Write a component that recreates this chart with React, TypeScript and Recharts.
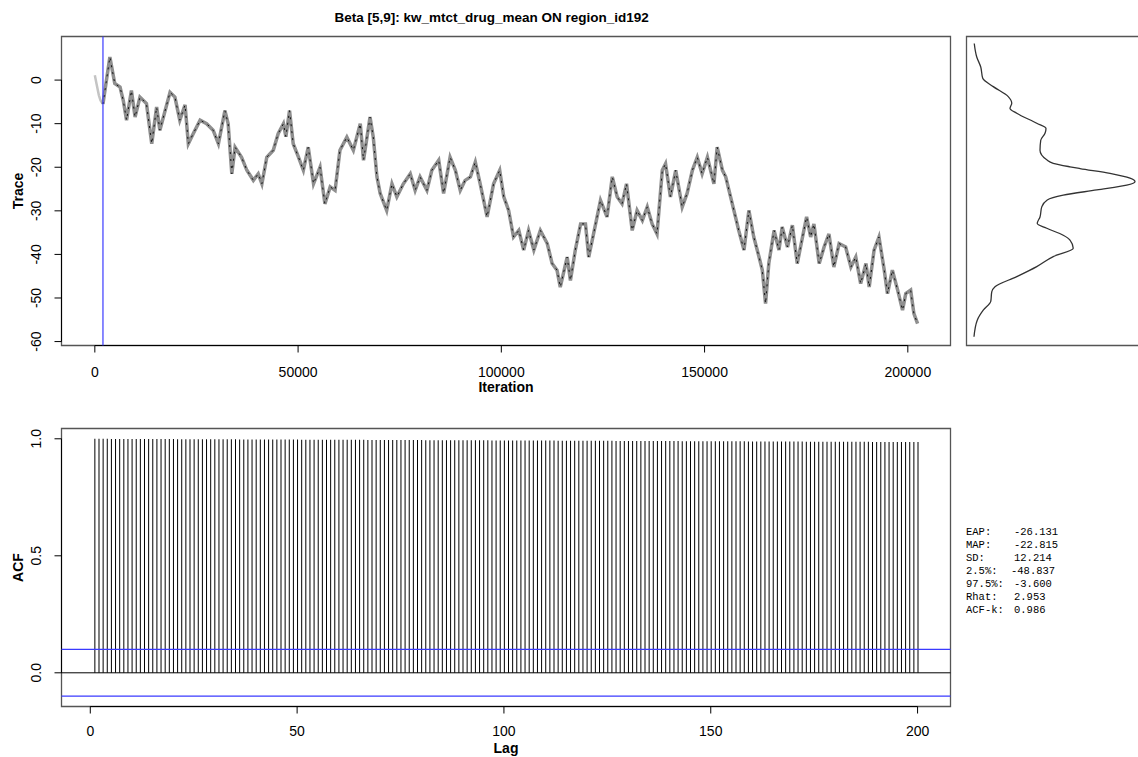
import { Bar, BarChart, Line, LineChart, ReferenceArea, ReferenceLine, XAxis, YAxis } from "recharts";

const TITLE = "Beta [5,9]: kw_mtct_drug_mean ON region_id192";
const BURN_IN = 2000;

// burn-in part of the chain (drawn light grey, left of the blue line)
const BURN_ITER = [0, 400, 1000, 1400, 2000];
const BURN_VALUE = [1.1, -0.8, -3.5, -4.7, -5.5];

// post burn-in trace
const TRACE_ITER = [
  2000, 3700, 4900, 6200, 7000, 7800, 9000, 9900, 11100, 12700, 14000, 15200, 16000, 18500, 19700, 20900,
  22200, 23000, 24200, 25900, 27500, 29100, 30400, 32000, 32800, 33700, 34500, 36100, 37400, 39000, 40200,
  41100, 42300, 43900, 45100, 46400, 47000, 47900, 48800, 50100, 51300, 52500, 53800, 55400, 56600, 57900,
  59100, 60300, 62000, 63600, 65300, 66100, 67700, 68500, 69400, 70200, 71800, 73100, 74300, 75900, 77600,
  78800, 80000, 81700, 82900, 84600, 85800, 87400, 88700, 89900, 91100, 92400, 93600, 94800, 96500, 98100,
  99600, 100600, 101800, 103000, 104300, 105500, 106700, 108000, 109600, 111300, 112500, 113700, 114500,
  116200, 117000, 118200, 119500, 120700, 121500, 123200, 124400, 126000, 127300, 128500, 129700, 130800,
  132200, 133400, 134700, 135900, 137100, 138300, 139600, 140400, 141600, 142900, 144500, 145700, 147000,
  148200, 149400, 150700, 152300, 153100, 154400, 155200, 156400, 157600, 158400, 159700, 160900, 162100,
  163400, 164200, 165000, 165800, 167100, 168300, 169100, 170400, 171600, 172800, 174100, 175100, 176100,
  176900, 178200, 179400, 180600, 181800, 183100, 184700, 186000, 187200, 188400, 189700, 190500, 191700,
  192900, 194200, 195000, 196200, 197500, 198700, 199500, 200700, 201500, 202400,
];
const TRACE_VALUE = [
  -5.5, 5.3, -0.8, -1.6, -4.7, -9.2, -2.4, -8.5, -3.9, -5.4, -14.6, -6.2, -11.5, -2.8, -3.9, -9.2,
  -5.7, -14.6, -12.3, -9.2, -10.0, -11.5, -14.6, -7.0, -10.0, -21.5, -15.4, -17.7, -20.7, -23.0, -21.5,
  -23.8, -17.7, -16.1, -12.3, -10.0, -13.0, -7.0, -14.6, -17.7, -20.7, -15.4, -23.8, -20.0, -28.4, -24.5,
  -25.3, -16.1, -13.1, -16.1, -10.0, -18.4, -8.5, -13.1, -22.2, -26.0, -29.9, -23.8, -26.8, -23.8, -21.5,
  -25.3, -22.2, -25.3, -20.7, -18.4, -26.0, -17.7, -20.7, -25.3, -23.0, -22.2, -18.8, -23.8, -31.4, -23.8,
  -20.7, -26.8, -29.9, -36.0, -34.5, -39.0, -34.5, -39.0, -34.5, -37.5, -42.1, -43.6, -47.5,
  -40.6, -46.0, -39.0, -33.0, -33.0, -40.6, -33.0, -27.6, -31.4, -22.2, -26.8, -28.4, -23.8,
  -34.5, -29.9, -32.2, -29.1, -33.0, -35.3, -20.7, -19.2, -26.8, -20.7, -29.1, -26.0, -20.7,
  -17.7, -21.5, -17.7, -23.8, -15.4, -20.7, -22.2, -26.8, -31.4, -34.5, -39.0, -29.9, -36.0,
  -40.6, -43.6, -51.3, -42.1, -34.5, -39.0, -33.7, -38.3, -33.3, -42.1, -36.0, -31.4, -36.0,
  -33.0, -42.1, -38.3, -35.3, -42.9, -37.5, -38.3, -42.9, -40.6, -46.7, -42.1, -47.5, -39.0,
  -36.0, -43.6, -49.0, -43.6, -48.2, -52.8, -49.0, -48.2, -53.6, -55.9,
];

// marginal density, drawn sideways next to the trace
const DENS_AT = [
  8.4, 5.3, 3.0, 0.4, -1.5, -3.8, -5.3, -6.5, -7.6, -9.9, -11.1, -12.2, -13.8, -16.1, -18.3, -19.1, -19.9,
  -20.3, -21.4, -22.5, -23.3, -24.1, -25.2, -26.4, -27.5, -29.1, -31.4, -32.9, -34.0, -35.6, -36.7, -38.6,
  -40.5, -42.8, -45.1, -47.4, -48.6, -50.8, -52.8, -55.1, -58.9,
];
const DENS_HEIGHT = [
  0.0003, 0.0013, 0.0029, 0.0037, 0.0079, 0.0139, 0.0153, 0.0146, 0.0173, 0.0253, 0.029, 0.0286, 0.0269,
  0.0266, 0.0293, 0.0319, 0.0386, 0.0426, 0.0546, 0.0626, 0.0646, 0.0613, 0.0493, 0.0359, 0.0295, 0.0273,
  0.0266, 0.0255, 0.0293, 0.0359, 0.0386, 0.0399, 0.0319, 0.0253, 0.0173, 0.0086, 0.0073, 0.0069, 0.0039,
  0.0015, 0.0002,
];

// autocorrelation, lags 1..200
const ACF_VALUE = [
  0.9999, 0.9998, 0.9998, 0.9997, 0.9996, 0.9996, 0.9995, 0.9994, 0.9994, 0.9993, 0.9992, 0.9992, 0.9991, 0.999, 0.999, 0.9989, 0.9988, 0.9987, 0.9987, 0.9986,
  0.9985, 0.9985, 0.9984, 0.9983, 0.9983, 0.9982, 0.9981, 0.9981, 0.998, 0.9979, 0.9978, 0.9978, 0.9977, 0.9976, 0.9976, 0.9975, 0.9974, 0.9974, 0.9973, 0.9972,
  0.9971, 0.9971, 0.997, 0.9969, 0.9969, 0.9968, 0.9967, 0.9967, 0.9966, 0.9965, 0.9964, 0.9964, 0.9963, 0.9962, 0.9962, 0.9961, 0.996, 0.996, 0.9959, 0.9958,
  0.9957, 0.9957, 0.9956, 0.9955, 0.9955, 0.9954, 0.9953, 0.9953, 0.9952, 0.9951, 0.995, 0.995, 0.9949, 0.9948, 0.9948, 0.9947, 0.9946, 0.9946, 0.9945, 0.9944,
  0.9943, 0.9943, 0.9942, 0.9941, 0.9941, 0.994, 0.9939, 0.9939, 0.9938, 0.9937, 0.9936, 0.9936, 0.9935, 0.9934, 0.9934, 0.9933, 0.9932, 0.9932, 0.9931, 0.993,
  0.9929, 0.9929, 0.9928, 0.9927, 0.9927, 0.9926, 0.9925, 0.9925, 0.9924, 0.9923, 0.9922, 0.9922, 0.9921, 0.992, 0.992, 0.9919, 0.9918, 0.9918, 0.9917, 0.9916,
  0.9915, 0.9915, 0.9914, 0.9913, 0.9913, 0.9912, 0.9911, 0.9911, 0.991, 0.9909, 0.9908, 0.9908, 0.9907, 0.9906, 0.9906, 0.9905, 0.9904, 0.9904, 0.9903, 0.9902,
  0.9901, 0.9901, 0.99, 0.9899, 0.9899, 0.9898, 0.9897, 0.9897, 0.9896, 0.9895, 0.9894, 0.9894, 0.9893, 0.9892, 0.9892, 0.9891, 0.989, 0.989, 0.9889, 0.9888,
  0.9887, 0.9887, 0.9886, 0.9885, 0.9885, 0.9884, 0.9883, 0.9883, 0.9882, 0.9881, 0.988, 0.988, 0.9879, 0.9878, 0.9878, 0.9877, 0.9876, 0.9876, 0.9875, 0.9874,
  0.9873, 0.9873, 0.9872, 0.9871, 0.9871, 0.987, 0.9869, 0.9869, 0.9868, 0.9867, 0.9866, 0.9866, 0.9865, 0.9864, 0.9864, 0.9863, 0.9862, 0.9862, 0.9861, 0.986,
];
const ACF_CLIM = 0.1;

const ITER_TICKS = [0, 50000, 100000, 150000, 200000];
const TRACE_TICKS = [0, -10, -20, -30, -40, -50, -60];
const LAG_TICKS = [0, 50, 100, 150, 200];
const ACF_TICKS = [0, 0.5, 1];

const STAT_LABELS = ["EAP:", "MAP:", "SD:", "2.5%:", "97.5%:", "Rhat:", "ACF-k:"];
const STAT_VALUES = ["-26.131", "-22.815", "12.214", "-48.837", "-3.600", "2.953", "0.986"];

// R-style plot regions: data range padded 4% each side
const TRACE_X: [number, number] = [-8200, 210500];
const TRACE_Y: [number, number] = [-60.9, 10];
const DENS_X: [number, number] = [-0.0028, 0.0672];
const LAG_X: [number, number] = [-6.96, 207.96];
const ACF_Y: [number, number] = [-0.144, 1.044];

const SANS = "'Liberation Sans', Arial, Helvetica, sans-serif";
const MONO = "'Liberation Mono', 'DejaVu Sans Mono', monospace";
const BOX = "#555";
const BLUE = "#3a3aff";

const traceRows = [
  ...BURN_ITER.map((it, i) => ({ it, burn: BURN_VALUE[i] })),
  ...TRACE_ITER.map((it, i) => ({ it, chain: TRACE_VALUE[i] })),
];
const densRows = DENS_AT.map((v, i) => ({ v, h: DENS_HEIGHT[i] }));
const acfRows = ACF_VALUE.map((acf, i) => ({ lag: i + 1, acf }));

function BottomTick({ x, y, payload, dy = 22 }: any) {
  return (
    <text x={x} y={y + dy} textAnchor="middle" fontFamily={SANS} fontSize={14} fill="#000">
      {payload.value}
    </text>
  );
}

// y labels run parallel to the axis, like R's las=0
function LeftTick({ x, y, payload, digits }: any) {
  const bx = x - 11;
  return (
    <text x={bx} y={y} transform={`rotate(-90 ${bx} ${y})`} textAnchor="middle" fontFamily={SANS} fontSize={14} fill="#000">
      {Number(payload.value).toFixed(digits)}
    </text>
  );
}

function TracePanel() {
  return (
    <LineChart width={960} height={400} data={traceRows} margin={{ top: 36.5, right: 9.5, bottom: 0, left: 0 }}>
      <XAxis type="number" dataKey="it" domain={TRACE_X} allowDataOverflow ticks={ITER_TICKS} interval={0} height={54.5} axisLine={false} tickLine={{ stroke: "#000" }} tickSize={7} tick={(p: any) => <BottomTick {...p} dy={22} />} />
      <YAxis type="number" domain={TRACE_Y} allowDataOverflow ticks={TRACE_TICKS} interval={0} width={61.5} axisLine={false} tickLine={{ stroke: "#000" }} tickSize={7} tick={(p: any) => <LeftTick {...p} digits={0} />} />
      <ReferenceArea x1={TRACE_X[0]} x2={TRACE_X[1]} y1={TRACE_Y[0]} y2={TRACE_Y[1]} fill="none" stroke={BOX} strokeWidth={1.3} ifOverflow="visible" />
      <ReferenceLine segment={[{ x: 0, y: TRACE_Y[0] }, { x: 200000, y: TRACE_Y[0] }]} stroke="#000" ifOverflow="visible" />
      <ReferenceLine segment={[{ x: TRACE_X[0], y: -60 }, { x: TRACE_X[0], y: 0 }]} stroke="#000" ifOverflow="visible" />
      <Line dataKey="burn" stroke="#c4c4c4" strokeWidth={2.5} dot={false} isAnimationActive={false} />
      <Line dataKey="chain" name="chain-grey" stroke="#8f8f8f" strokeWidth={3.5} dot={false} isAnimationActive={false} />
      <Line dataKey="chain" name="chain-black" stroke="#111" strokeWidth={1} strokeDasharray="2 5" dot={false} isAnimationActive={false} />
      <ReferenceLine x={BURN_IN} stroke={BLUE} strokeWidth={1.2} />
    </LineChart>
  );
}

function DensityPanel() {
  return (
    <LineChart layout="vertical" width={260} height={400} data={densRows} margin={{ top: 36.5, right: 18.5, bottom: 54.5, left: 66.5 }}>
      <XAxis type="number" dataKey="h" domain={DENS_X} allowDataOverflow hide />
      <YAxis type="number" dataKey="v" domain={TRACE_Y} allowDataOverflow reversed hide />
      <ReferenceArea x1={DENS_X[0]} x2={DENS_X[1]} y1={TRACE_Y[0]} y2={TRACE_Y[1]} fill="none" stroke={BOX} strokeWidth={1.3} ifOverflow="visible" />
      <Line dataKey="h" type="monotone" stroke="#333" strokeWidth={1.3} dot={false} isAnimationActive={false} />
    </LineChart>
  );
}

function AcfPanel() {
  return (
    <BarChart width={960} height={357} data={acfRows} margin={{ top: 28.5, right: 9.5, bottom: 0, left: 0 }}>
      <XAxis type="number" dataKey="lag" domain={LAG_X} allowDataOverflow ticks={LAG_TICKS} interval={0} height={50.5} axisLine={false} tickLine={{ stroke: "#000" }} tickSize={7} tick={(p: any) => <BottomTick {...p} dy={20} />} />
      <YAxis type="number" domain={ACF_Y} allowDataOverflow ticks={ACF_TICKS} interval={0} width={61.5} axisLine={false} tickLine={{ stroke: "#000" }} tickSize={7} tick={(p: any) => <LeftTick {...p} digits={1} />} />
      <ReferenceArea x1={LAG_X[0]} x2={LAG_X[1]} y1={ACF_Y[0]} y2={ACF_Y[1]} fill="none" stroke={BOX} strokeWidth={1.3} ifOverflow="visible" />
      <ReferenceLine segment={[{ x: 0, y: ACF_Y[0] }, { x: 200, y: ACF_Y[0] }]} stroke="#000" ifOverflow="visible" />
      <ReferenceLine segment={[{ x: LAG_X[0], y: 0 }, { x: LAG_X[0], y: 1 }]} stroke="#000" ifOverflow="visible" />
      <Bar dataKey="acf" fill="#000" barSize={1} isAnimationActive={false} />
      <ReferenceLine y={0} stroke="#000" />
      <ReferenceLine y={ACF_CLIM} stroke={BLUE} strokeWidth={1.2} />
      <ReferenceLine y={-ACF_CLIM} stroke={BLUE} strokeWidth={1.2} />
    </BarChart>
  );
}

export default function App() {
  return (
    <div style={{ position: "absolute", left: 0, top: 0, width: 1138, height: 757, overflow: "hidden", background: "#fff" }}>
      <div style={{ position: "absolute", left: 0, top: 0 }}>
        <TracePanel />
      </div>
      <div style={{ position: "absolute", left: 900, top: 0 }}>
        <DensityPanel />
      </div>
      <div style={{ position: "absolute", left: 0, top: 400 }}>
        <AcfPanel />
      </div>
      <svg width={1138} height={757} style={{ position: "absolute", left: 0, top: 0, pointerEvents: "none" }}>
        <text x={491.7} y={21.5} textAnchor="middle" fontFamily={SANS} fontWeight="bold" fontSize={13.5} fill="#000">
          {TITLE}
        </text>
        <text x={506} y={392} textAnchor="middle" fontFamily={SANS} fontWeight="bold" fontSize={14} fill="#000">
          Iteration
        </text>
        <text transform="translate(23 191) rotate(-90)" textAnchor="middle" fontFamily={SANS} fontWeight="bold" fontSize={14} fill="#000">
          Trace
        </text>
        <text x={506} y={752.5} textAnchor="middle" fontFamily={SANS} fontWeight="bold" fontSize={14} fill="#000">
          Lag
        </text>
        <text transform="translate(23 567.5) rotate(-90)" textAnchor="middle" fontFamily={SANS} fontWeight="bold" fontSize={14} fill="#000">
          ACF
        </text>
        {STAT_LABELS.map((label, i) => (
          <g key={label} fontFamily={MONO} fontSize={10.5} fill="#000">
            <text x={966} y={535 + i * 12.95}>{label}</text>
            <text x={label === "2.5%:" ? 1011 : 1014} y={535 + i * 12.95}>{STAT_VALUES[i]}</text>
          </g>
        ))}
      </svg>
    </div>
  );
}
